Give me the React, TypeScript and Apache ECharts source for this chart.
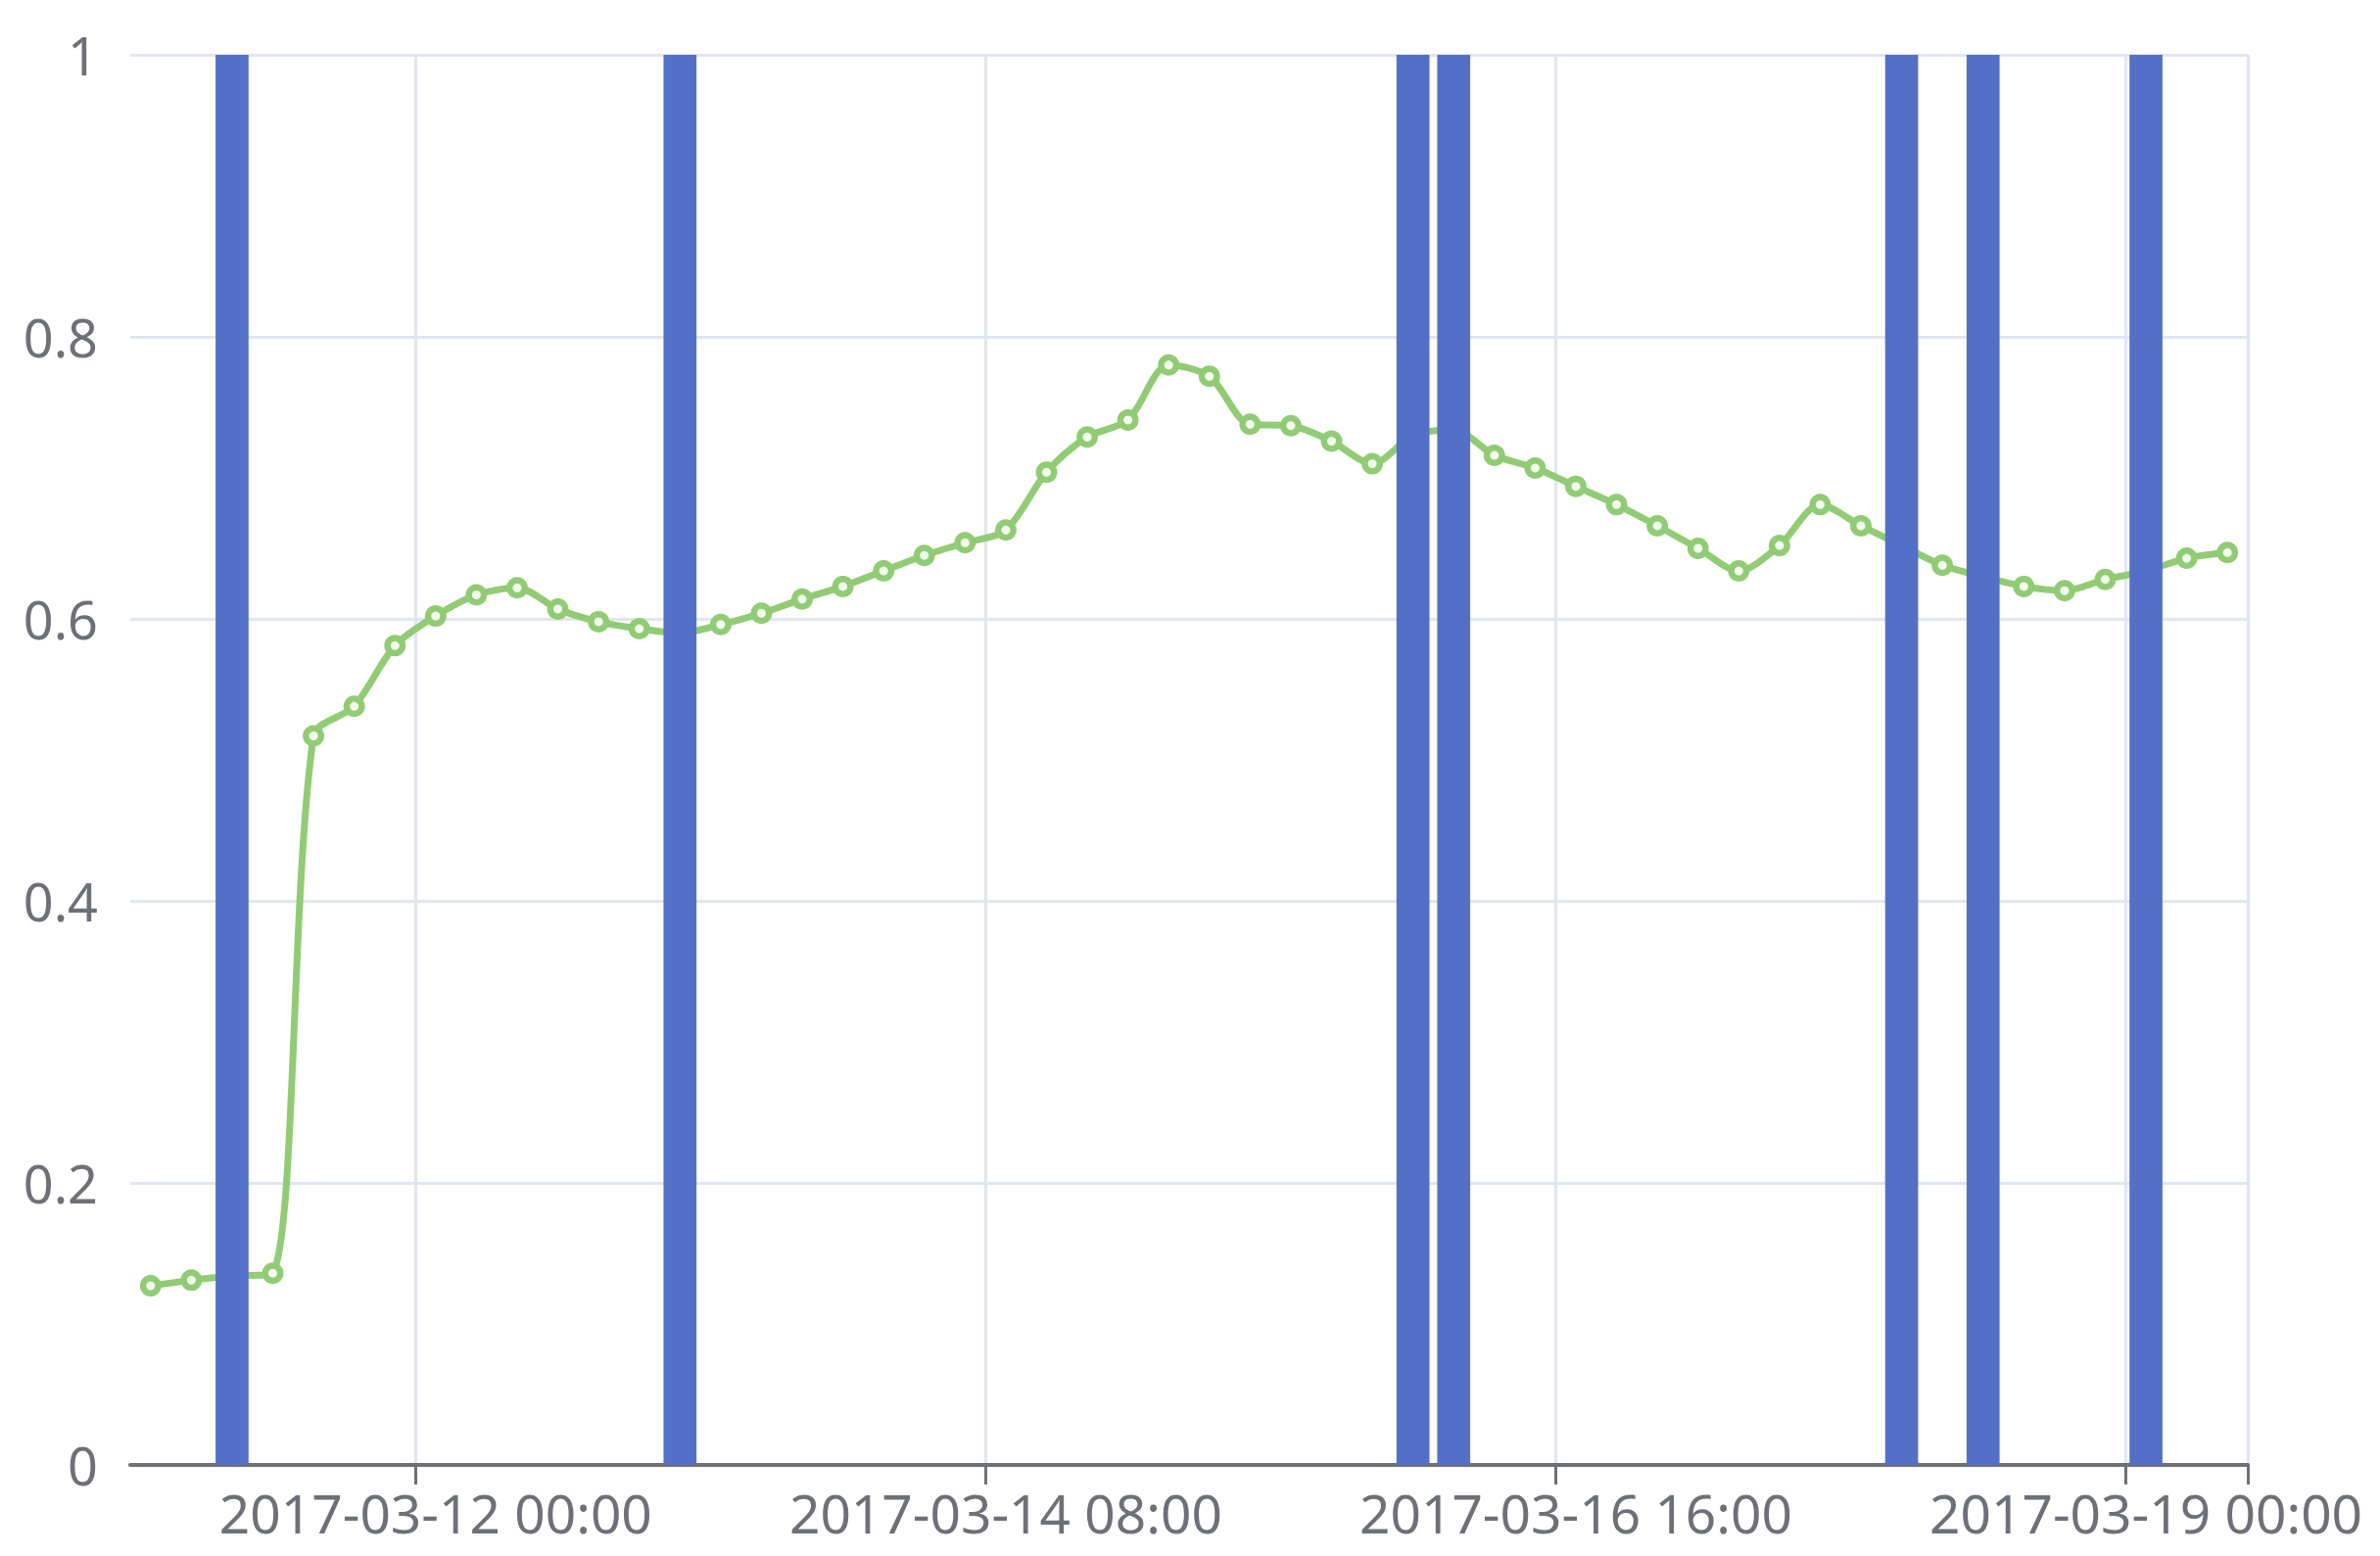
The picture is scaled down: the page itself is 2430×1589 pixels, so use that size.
import React, { useEffect, useRef } from "react";
import * as echarts from "echarts";

const categories = [
  "2017-03-10 20:00", "2017-03-11 00:00", "2017-03-11 04:00", "2017-03-11 08:00",
  "2017-03-11 12:00", "2017-03-11 16:00", "2017-03-11 20:00", "2017-03-12 00:00",
  "2017-03-12 04:00", "2017-03-12 08:00", "2017-03-12 12:00", "2017-03-12 16:00",
  "2017-03-12 20:00", "2017-03-13 00:00", "2017-03-13 04:00", "2017-03-13 08:00",
  "2017-03-13 12:00", "2017-03-13 16:00", "2017-03-13 20:00", "2017-03-14 00:00",
  "2017-03-14 04:00", "2017-03-14 08:00", "2017-03-14 12:00", "2017-03-14 16:00",
  "2017-03-14 20:00", "2017-03-15 00:00", "2017-03-15 04:00", "2017-03-15 08:00",
  "2017-03-15 12:00", "2017-03-15 16:00", "2017-03-15 20:00", "2017-03-16 00:00",
  "2017-03-16 04:00", "2017-03-16 08:00", "2017-03-16 12:00", "2017-03-16 16:00",
  "2017-03-16 20:00", "2017-03-17 00:00", "2017-03-17 04:00", "2017-03-17 08:00",
  "2017-03-17 12:00", "2017-03-17 16:00", "2017-03-17 20:00", "2017-03-18 00:00",
  "2017-03-18 04:00", "2017-03-18 08:00", "2017-03-18 12:00", "2017-03-18 16:00",
  "2017-03-18 20:00", "2017-03-19 00:00", "2017-03-19 04:00", "2017-03-19 08:00",
];

const lineValues = [
  0.127, 0.131, 0.134, 0.136, 0.517, 0.538, 0.581, 0.602,
  0.617, 0.622, 0.607, 0.598, 0.593, 0.59, 0.596, 0.604,
  0.614, 0.623, 0.634, 0.645, 0.654, 0.663, 0.704, 0.729,
  0.741, 0.78, 0.772, 0.738, 0.737, 0.726, 0.71, 0.73,
  0.734, 0.716, 0.707, 0.694, 0.681, 0.666, 0.65, 0.634,
  0.652, 0.681, 0.666, 0.652, 0.638, 0.63, 0.623, 0.62,
  0.628, 0.634, 0.643, 0.647,
];

const barValues = [
  0, 0, 1, 0, 0, 0, 0, 0, 0, 0, 0, 0, 0, 1, 0, 0,
  0, 0, 0, 0, 0, 0, 0, 0, 0, 0, 0, 0, 0, 0, 0, 1,
  1, 0, 0, 0, 0, 0, 0, 0, 0, 0, 0, 1, 0, 1, 0, 0,
  0, 1, 0, 0,
];

const yTicks = { min: 0, max: 1, interval: 0.2 };

export default function App() {
  const ref = useRef<HTMLDivElement>(null);
  useEffect(() => {
    if (!ref.current) return;
    const chart = echarts.init(ref.current, undefined, { renderer: "svg" });
    const font = "Noto Sans";
    chart.setOption({
      animation: false,
      backgroundColor: "#ffffff",
      grid: { left: 133, right: 135, top: 56, bottom: 93, containLabel: false },
      xAxis: {
        type: "category",
        data: categories,
        boundaryGap: true,
        axisLine: { lineStyle: { color: "#6e7079", width: 4 } },
        axisTick: { show: true, length: 20, lineStyle: { color: "#6e7079", width: 3 } },
        axisLabel: {
          interval: (index: number) => index % 14 === 7,
          color: "#6e7079",
          fontFamily: font,
          fontSize: 55,
          margin: 21,
        },
        splitLine: { show: true, lineStyle: { color: "#e0e6f1", width: 3 } },
      },
      yAxis: {
        type: "value",
        min: yTicks.min,
        max: yTicks.max,
        interval: yTicks.interval,
        axisLine: { show: false },
        axisTick: { show: false },
        axisLabel: {
          color: "#6e7079",
          fontFamily: font,
          fontSize: 54,
          margin: 33,
        },
        splitLine: { lineStyle: { color: "#e0e6f1", width: 3 } },
      },
      series: [
        {
          type: "line",
          data: lineValues,
          smooth: 0.3,
          z: 1,
          symbol: "circle",
          symbolSize: 22,
          lineStyle: { color: "#91cc75", width: 7 },
          itemStyle: { color: "#91cc75" },
        },
        {
          type: "scatter",
          data: lineValues,
          z: 2,
          symbol: "circle",
          symbolSize: 9,
          itemStyle: { color: "#f2faee", opacity: 1 },
          silent: true,
        },
        {
          type: "bar",
          data: barValues,
          z: 3,
          barWidth: "81%",
          itemStyle: { color: "#5470c6" },
        },
      ],
    });
    return () => chart.dispose();
  }, []);
  return (
    <div
      ref={ref}
      style={{ position: "absolute", left: 0, top: 0, width: 2430, height: 1589 }}
    />
  );
}
